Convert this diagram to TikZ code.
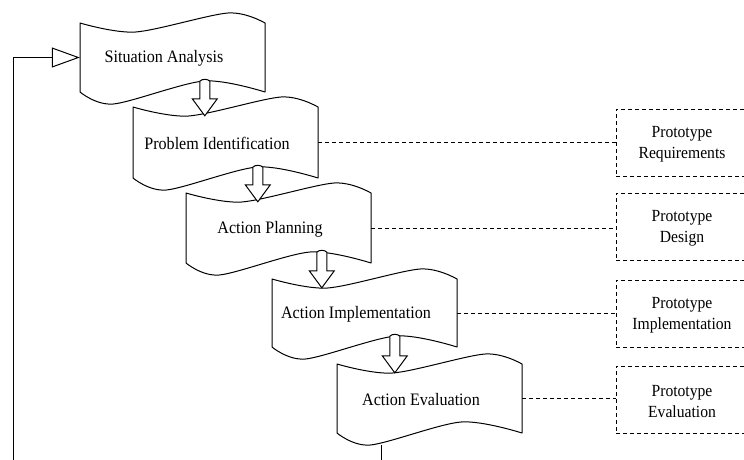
\documentclass[tikz,border=0pt]{standalone}
\usepackage{fontspec}
\setmainfont{Liberation Serif}[FakeStretch=0.92]
\usetikzlibrary{arrows.meta,calc}
\tikzset{
  tapeline/.style={draw=black, line width=1pt, fill=white, line join=round},
  tapenode/.style={inner sep=0pt, minimum width=185pt, minimum height=#1},
  tapetext/.style={font=\fontsize{17.5}{20}\selectfont, inner sep=0pt},
  blockarrow/.style={draw=black, line width=1pt, fill=white, line join=miter},
  protobox/.style={draw=black, dash pattern=on 4pt off 3pt, line width=0.9pt,
    minimum width=132pt, minimum height=67pt, inner sep=0pt},
  prototext/.style={align=center, inner sep=0pt, font=\fontsize{17}{21}\selectfont},
  dashline/.style={draw=black, dash pattern=on 4pt off 3pt, line width=0.9pt},
  flow/.style={draw=black, line width=1pt}
}
\newcommand\tapeshape[5]{% name, left, top, bottom, text
  \path[tapeline] plot[smooth] coordinates {(#2,#3) ({#2+0.3*185},{#3+9}) ({#2+0.8*185},{#3-10}) ({#2+185},#3)}
     -- plot[smooth] coordinates {({#2+185},#4) ({#2+0.67*185},{#4-11}) ({#2+0.18*185},{#4+12}) (#2,#4)} -- cycle;
  \node[tapenode={#4-#3}] (#1) at ({#2+92.5},{(#3+#4)/2}) {};
  \node[tapetext] (#1-t) at ({#2+84},{(#3+#4)/2+1}) {#5};
}
\newcommand\blockarrow[3]{% upper, lower, dx
  \coordinate (ba-a) at ($(#1.south west)+(#3,-11)$);
  \coordinate (ba-b) at ($(#2.north west)+(0,9)$);
  \coordinate (ba-t) at (ba-a |- ba-b);
  \coordinate (ba-h) at ($(ba-t)+(0,-17)$);
  \path[blockarrow] ($(ba-a)+(-5,0)$) -- ($(ba-h)+(-5,0)$) -- ($(ba-h)+(-12.5,0)$) -- (ba-t)
     -- ($(ba-h)+(12.5,0)$) -- ($(ba-h)+(5,0)$) -- ($(ba-a)+(5,0)$)
     .. controls ($(ba-a)+(3,-2.5)$) and ($(ba-a)+(-3,-2.5)$) .. ($(ba-a)+(-5,0)$) -- cycle;
}
\begin{document}
\begin{tikzpicture}[x=1pt,y=-1pt]
\clip (0,0) rectangle (744,459);
\fill[white] (0,0) rectangle (744,459);
% tape shapes
\tapeshape{sa}{80}{23}{92}{Situation Analysis}
\tapeshape{pi}{133}{107}{178}{Problem Identification}
\tapeshape{ap}{186}{193}{263}{Action Planning}
\tapeshape{ai}{272}{279}{347}{Action Implementation}
\tapeshape{ae}{337}{364}{433}{Action Evaluation}
% block arrows
\blockarrow{sa}{pi}{125}
\blockarrow{pi}{ap}{125}
\blockarrow{ap}{ai}{136}
\blockarrow{ai}{ae}{123}
% prototype boxes
\node[protobox] (b1) at (682,142.5) {};
\node[protobox] (b2) at (682,226.5) {};
\node[protobox] (b3) at (682,313.5) {};
\node[protobox] (b4) at (682,399.5) {};
\node[prototext] (b1-t) at ($(b1.center)+(0,2)$) {Prototype\\Requirements};
\node[prototext] (b2-t) at ($(b2.center)+(0,2)$) {Prototype\\Design};
\node[prototext] (b3-t) at ($(b3.center)+(0,2)$) {Prototype\\Implementation};
\node[prototext] (b4-t) at ($(b4.center)+(0,2)$) {Prototype\\Evaluation};
% dashed links
\draw[dashline] (pi.east) -- (pi.east -| b1.west);
\draw[dashline] (ap.east) -- (ap.east -| b2.west);
\draw[dashline] (ai.east) -- (ai.east -| b3.west);
\draw[dashline] (ae.east) -- (ae.east -| b4.west);
% feedback loop
\coordinate (loop) at (13,490);
\draw[flow, -{Triangle[open, length=28pt, width=20pt]}] ($(ae.south west)+(45,12)$) |- (loop) |- (sa.west);
\end{tikzpicture}
\end{document}
